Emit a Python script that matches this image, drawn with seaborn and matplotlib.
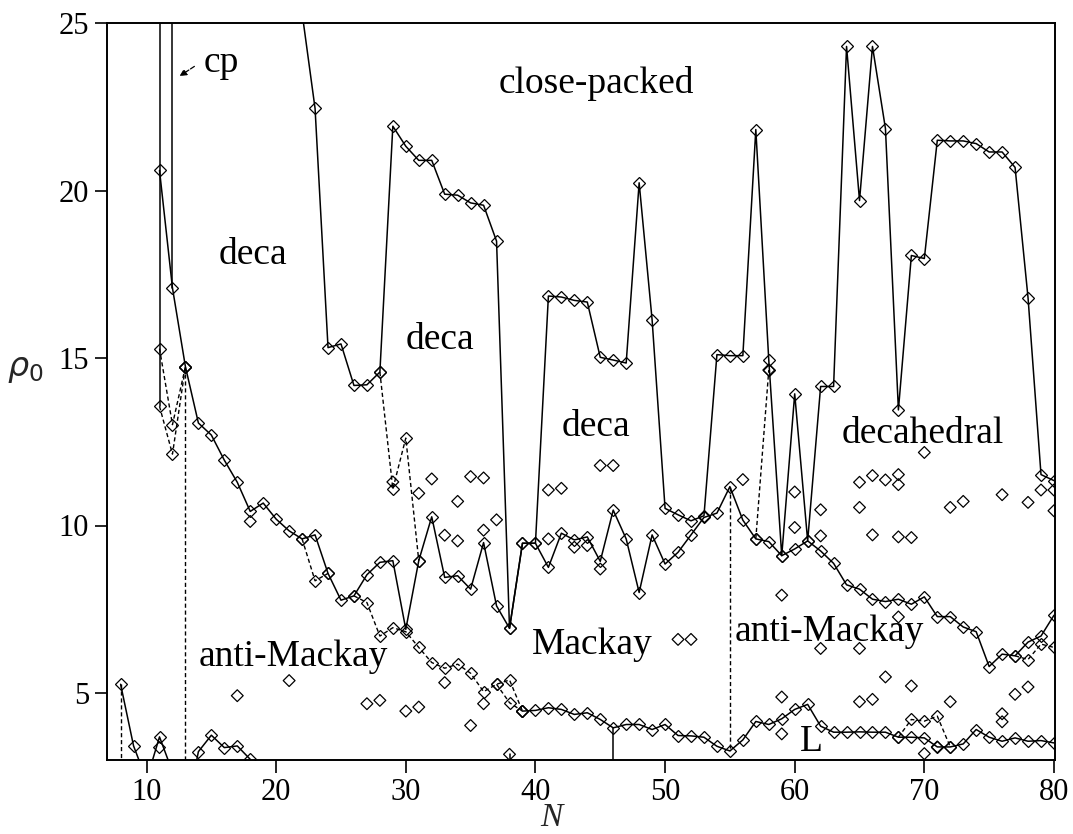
import matplotlib
matplotlib.use('Agg')
import matplotlib.pyplot as plt
import seaborn as sns

# upper boundary (decahedral / close-packed)
upper_n = list(range(22, 81))
upper_rho = [25.3, 22.45, 15.31, 15.42, 14.18, 14.2, 14.58, 21.92, 21.32, 20.9,
             20.9, 19.89, 19.86, 19.63, 19.56, 18.49, 6.93, 9.47, 9.47, 16.85,
             16.82, 16.72, 16.67, 15.02, 14.94, 14.85, 20.23, 16.14, 10.51, 10.32,
             10.14, 10.29, 15.1, 15.07, 15.07, 21.82, 14.94, 9.1, 13.93, 9.54,
             14.15, 14.15, 24.3, 19.7, 24.3, 21.85, 13.45, 18.06, 17.97, 21.5,
             21.48, 21.48, 21.4, 21.15, 21.15, 20.69, 16.8, 11.52, 11.34]

# middle boundary (icosahedral / decahedral)
mid_n = list(range(11, 81))
mid_rho = [20.6, 17.09, 14.74, 13.06, 12.7, 11.95, 11.29, 10.42, 10.67, 10.19,
           9.84, 9.6, 9.72, 8.57, 7.77, 7.9, 8.53, 8.9, 8.95, 6.9,
           8.95, 10.26, 8.45, 8.5, 8.1, 9.49, 7.6, 6.93, 9.47, 9.47,
           8.75, 9.77, 9.57, 9.66, 8.93, 10.46, 9.6, 8.0, 9.72, 8.85,
           9.2, 9.72, 10.24, 10.37, 11.16, 10.16, 9.6, 9.52, 9.1, 9.3,
           9.54, 9.24, 8.87, 8.23, 8.1, 7.8, 7.73, 7.8, 7.65, 7.87,
           7.28, 7.28, 6.97, 6.83, 5.79, 6.16, 6.11, 6.52, 6.7, 7.32]

# lower boundary (Mackay / anti-Mackay), solid part
low_n = list(range(39, 81))
low_rho = [4.46, 4.48, 4.56, 4.51, 4.36, 4.41, 4.21, 3.96, 4.06, 4.06,
           3.91, 4.06, 3.73, 3.72, 3.68, 3.41, 3.27, 3.6, 4.15, 4.06,
           4.23, 4.51, 4.66, 4.01, 3.83, 3.83, 3.84, 3.83, 3.83, 3.68,
           3.68, 3.66, 3.39, 3.39, 3.48, 3.91, 3.68, 3.56, 3.66, 3.56,
           3.58, 3.51]

# lower boundary, dashed parts
mack_n1 = [22, 23, 24]
mack_rho1 = [9.6, 8.35, 8.57]
mack_n2 = list(range(26, 40))
mack_rho2 = [7.9, 7.7, 6.7, 6.95, 6.83, 6.36, 5.91, 5.74, 5.86, 5.59, 5.04, 5.26, 5.39, 4.46]
mack_n3 = [37, 38, 39]
mack_rho3 = [5.26, 4.71, 4.46]

# small-N boundaries (linear / bottom)
small_n1 = [8, 9, 10, 11, 12]
small_rho1 = [5.26, 3.42, 2.4, 3.69, 2.65]
small_n2 = [13, 14, 15, 16, 17, 18, 19]
small_rho2 = [1.3, 3.25, 3.74, 3.37, 3.42, 3.02, 2.0]

# other dashed pieces
dash_n = [[11, 12, 13], [11, 12, 13], [28, 29, 30, 31], [57, 58],
          [68, 69, 70, 71, 72], [77, 78, 79, 80]]
dash_rho = [[15.28, 13.01, 14.74], [13.56, 12.13, 14.74], [14.58, 11.09, 12.61, 8.95],
            [9.6, 14.64], [3.68, 4.21, 4.16, 4.31, 3.39], [6.11, 6.0, 6.46, 6.36]]

# vertical boundaries
vsolid_n = [[11, 11], [12, 12], [46, 46], [38, 38]]
vsolid_rho = [[13.56, 26], [17.09, 26], [3.96, 2], [3.17, 2]]
vdash_n = [[8, 8], [13, 13], [55, 55]]
vdash_rho = [[5.26, 2], [14.74, 2], [11.16, 3.27]]

# isolated transition points
iso_n = [11, 17, 21, 18, 29, 31, 32, 35, 36, 34, 37, 36, 33, 34, 41, 42, 41, 43, 44, 45,
         27, 28, 30, 31, 33, 36, 35, 38, 45, 46, 56, 51, 52, 59, 59, 59, 60, 60, 58, 62,
         62, 65, 66, 67, 68, 68, 70, 65, 72, 73, 76, 78, 79, 80, 80, 66, 68, 69, 68, 62,
         65, 67, 69, 65, 66, 72, 77, 78, 76, 76, 70, 71]
iso_rho = [3.37, 4.92, 5.37, 10.12, 11.3, 10.96, 11.39, 11.46, 11.42, 10.72, 10.17, 9.86, 9.71,
           9.54, 11.06, 11.11, 9.6, 9.35, 9.4, 8.7,
           4.68, 4.78, 4.46, 4.58, 5.31, 4.68, 4.03, 3.17, 11.79, 11.79, 11.37, 6.6, 6.6, 7.92,
           4.88, 3.78, 11.0, 9.94, 14.64, 10.47,
           9.69, 11.29, 11.49, 11.36, 11.52, 11.22, 12.18, 10.54, 10.54, 10.72, 10.92, 10.69,
           11.06, 11.06, 10.44, 9.72, 9.66, 9.64, 7.27, 6.33,
           6.33, 5.48, 5.21, 4.74, 4.81, 4.74, 4.96, 5.18, 4.38, 4.14, 3.19, 3.39]

labels = ['cp', 'close-packed', 'deca', 'deca', 'deca', 'decahedral',
          'anti-Mackay', 'Mackay', 'anti-Mackay', 'L']
label_n = [15.8, 44.7, 18.2, 32.6, 44.7, 69.9, 21.3, 44.4, 62.7, 61.3]
label_rho = [23.8, 23.2, 18.07, 15.54, 12.95, 12.75, 6.07, 6.43, 6.82, 3.54]

sns.set_theme(style='ticks')
plt.rcParams['font.family'] = ['Liberation Serif', 'DejaVu Serif']
plt.rcParams['mathtext.fontset'] = 'dejavusans'

fig = plt.figure(figsize=(10.73, 8.34), dpi=100)
ax = fig.add_axes([107 / 1073, 74 / 834, 948 / 1073, 737 / 834])

mk = dict(marker='D', markersize=6, markerfacecolor='none',
          markeredgecolor='black', markeredgewidth=0.9)
solid = dict(color='black', lw=1.1, estimator=None, sort=False)
dashed = dict(color='black', lw=1.0, estimator=None, sort=False, dashes=(3, 2))

for xs, ys in [(upper_n, upper_rho), (mid_n, mid_rho), (low_n, low_rho),
               (small_n1, small_rho1), (small_n2, small_rho2)]:
    sns.lineplot(x=xs, y=ys, ax=ax, **solid, **mk)
for xs, ys in [(mack_n1, mack_rho1), (mack_n2, mack_rho2), (mack_n3, mack_rho3)] + list(zip(dash_n, dash_rho)):
    sns.lineplot(x=xs, y=ys, ax=ax, **dashed, **mk)
for xs, ys in zip(vsolid_n, vsolid_rho):
    sns.lineplot(x=xs, y=ys, ax=ax, **solid)
for xs, ys in zip(vdash_n, vdash_rho):
    sns.lineplot(x=xs, y=ys, ax=ax, **dashed)
sns.scatterplot(x=iso_n, y=iso_rho, ax=ax, marker='D', s=36, facecolor='none',
                edgecolor='black', linewidth=0.9, zorder=3)

for t, xn, yr in zip(labels, label_n, label_rho):
    ax.text(xn, yr, t, fontsize=27, ha='center', va='center', color='black')
ax.annotate('', xy=(12.37, 23.37), xytext=(13.87, 23.75),
            arrowprops=dict(arrowstyle='-|>', linestyle='--', lw=0.9,
                            color='black', mutation_scale=10))

ax.set_xlim(6.95, 80.08)
ax.set_ylim(3, 25)
ax.set_xticks([10, 20, 30, 40, 50, 60, 70, 80])
ax.set_yticks([5, 10, 15, 20, 25])
ax.tick_params(direction='out', length=9, width=1.2, labelsize=22, pad=4, colors='black')
for s in ax.spines.values():
    s.set_visible(True)
    s.set_linewidth(1.4)
    s.set_color('black')
ax.set_facecolor('white')

ax.set_xlabel('N', fontsize=24, style='italic')
ax.xaxis.set_label_coords(0.469, -0.058)
ax.set_ylabel(r'$\rho_0$', fontsize=24, rotation=0, va='center')
ax.yaxis.set_label_coords(-0.0865, 0.529)

fig.savefig('out.png', dpi=100, facecolor='white')
